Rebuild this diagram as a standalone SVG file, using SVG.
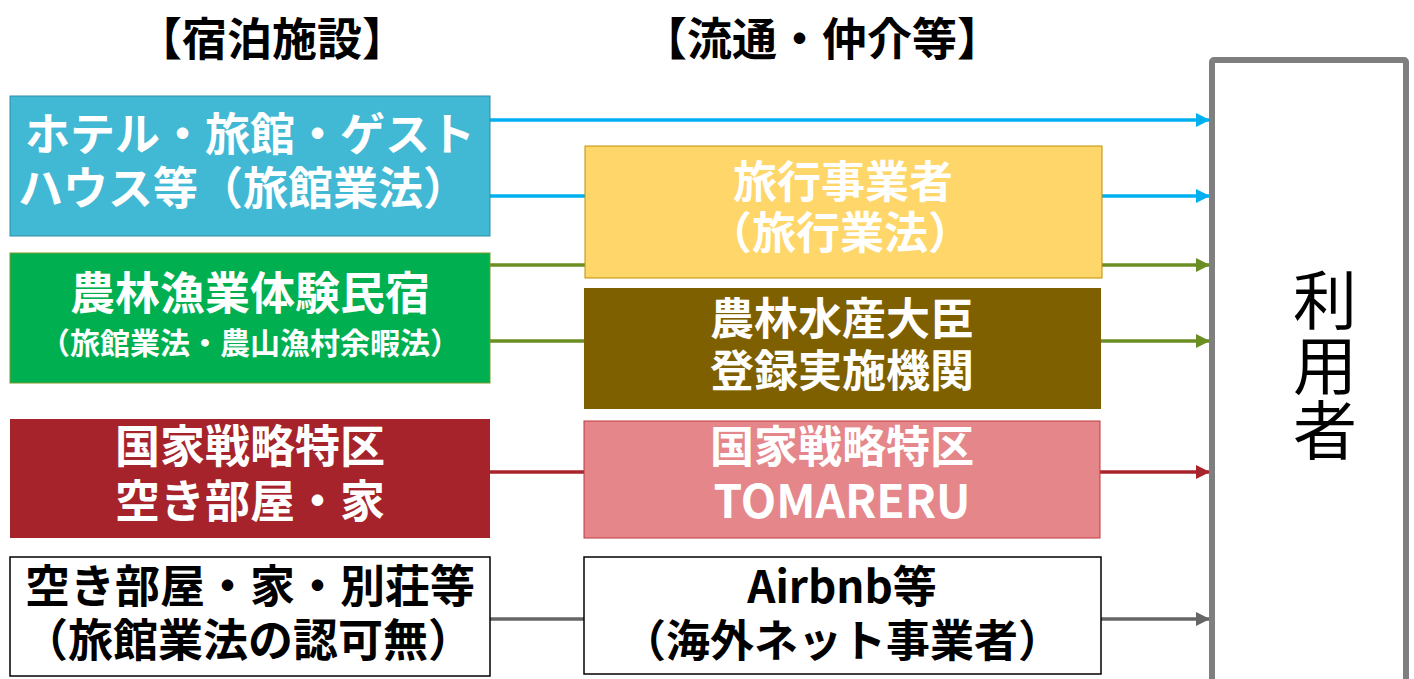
<svg xmlns="http://www.w3.org/2000/svg" width="1414" height="679" viewBox="0 0 1414 679">
<style>
.t{font-family:"Noto Sans CJK JP","Noto Sans",sans-serif;font-weight:bold;text-anchor:middle}
.w{fill:#fff}
.k{fill:#000}
.c{fill:none;stroke-width:3.5}
</style>
<defs>
<marker id="aC" viewBox="0 0 10 10" refX="10" refY="5" markerWidth="4" markerHeight="4" markerUnits="strokeWidth" orient="auto"><path d="M0,0L10,5L0,10z" fill="#00B0F0"/></marker>
<marker id="aG" viewBox="0 0 10 10" refX="10" refY="5" markerWidth="4" markerHeight="4" markerUnits="strokeWidth" orient="auto"><path d="M0,0L10,5L0,10z" fill="#6B8E23"/></marker>
<marker id="aR" viewBox="0 0 10 10" refX="10" refY="5" markerWidth="4" markerHeight="4" markerUnits="strokeWidth" orient="auto"><path d="M0,0L10,5L0,10z" fill="#A8232B"/></marker>
<marker id="aK" viewBox="0 0 10 10" refX="10" refY="5" markerWidth="4" markerHeight="4" markerUnits="strokeWidth" orient="auto"><path d="M0,0L10,5L0,10z" fill="#666"/></marker>
</defs>
<rect width="1414" height="679" fill="#fff"/>
<g id="headers">
<text class="t k" x="272" y="56" font-size="45">【宿泊施設】</text>
<text class="t k" x="822" y="56" font-size="45">【流通・仲介等】</text>
</g>
<g id="connectors">
<line class="c" x1="490" y1="120" x2="1210" y2="120" stroke="#00B0F0" marker-end="url(#aC)"/>
<line class="c" x1="490" y1="196" x2="1210" y2="196" stroke="#00B0F0" marker-end="url(#aC)"/>
<line class="c" x1="490" y1="265" x2="1210" y2="265" stroke="#6B8E23" marker-end="url(#aG)"/>
<line class="c" x1="490" y1="341" x2="1210" y2="341" stroke="#6B8E23" marker-end="url(#aG)"/>
<line class="c" x1="490" y1="472" x2="1210" y2="472" stroke="#A8232B" marker-end="url(#aR)"/>
<line class="c" x1="490" y1="619" x2="1210" y2="619" stroke="#666" marker-end="url(#aK)"/>
</g>
<g id="hotel">
<rect x="10" y="96" width="480" height="140" fill="#41B8D4" stroke="#2E8FA6" stroke-width="1"/>
<text class="t w" font-size="45"><tspan x="250" y="151">ホテル・旅館・ゲスト</tspan><tspan x="243" y="205">ハウス等（旅館業法）</tspan></text>
</g>
<g id="farmstay">
<rect x="10" y="253" width="480" height="130" fill="#00B050" stroke="#7A9A2A" stroke-width="1"/>
<text class="t w" font-size="45"><tspan x="250" y="310">農林漁業体験民宿</tspan><tspan x="250" y="354" font-size="30">（旅館業法・農山漁村余暇法）</tspan></text>
</g>
<g id="tokku">
<rect x="10" y="419" width="480" height="119" fill="#A6232B"/>
<text class="t w" font-size="45"><tspan x="250" y="463">国家戦略特区</tspan><tspan x="250" y="518">空き部屋・家</tspan></text>
</g>
<g id="akiya">
<rect x="10" y="557" width="480" height="119" fill="#fff" stroke="#000" stroke-width="1.5"/>
<text class="t k" font-size="45"><tspan x="250" y="603">空き部屋・家・別荘等</tspan><tspan x="248" y="657">（旅館業法の認可無）</tspan></text>
</g>
<g id="travel">
<rect x="585" y="146" width="517" height="132" fill="#FED669" stroke="#BF9000" stroke-width="1"/>
<text class="t w" font-size="44"><tspan x="843" y="198">旅行事業者</tspan><tspan x="840" y="249">（旅行業法）</tspan></text>
</g>
<g id="maff">
<rect x="584" y="288" width="517" height="121" fill="#7F6000"/>
<text class="t w" font-size="44"><tspan x="842" y="335">農林水産大臣</tspan><tspan x="842" y="387">登録実施機関</tspan></text>
</g>
<g id="tomareru">
<rect x="584" y="421" width="516" height="117" fill="#E5868A" stroke="#C0393E" stroke-width="1"/>
<text class="t w" font-size="44"><tspan x="842" y="463">国家戦略特区</tspan><tspan x="842" y="518" font-size="46">TOMARERU</tspan></text>
</g>
<g id="airbnb">
<rect x="584" y="557" width="517" height="117" fill="#fff" stroke="#000" stroke-width="1.5"/>
<text class="t k" font-size="44"><tspan x="842" y="603">Airbnb等</tspan><tspan x="842" y="657">（海外ネット事業者）</tspan></text>
</g>
<g id="user">
<rect x="1212" y="60" width="194" height="630" rx="2" fill="#fff" stroke="#7F7F7F" stroke-width="6"/>
<text x="1325" y="268" font-size="64" font-family="'Noto Sans CJK JP',sans-serif" writing-mode="vertical-rl" letter-spacing="1" fill="#000">利用者</text>
</g>
</svg>
